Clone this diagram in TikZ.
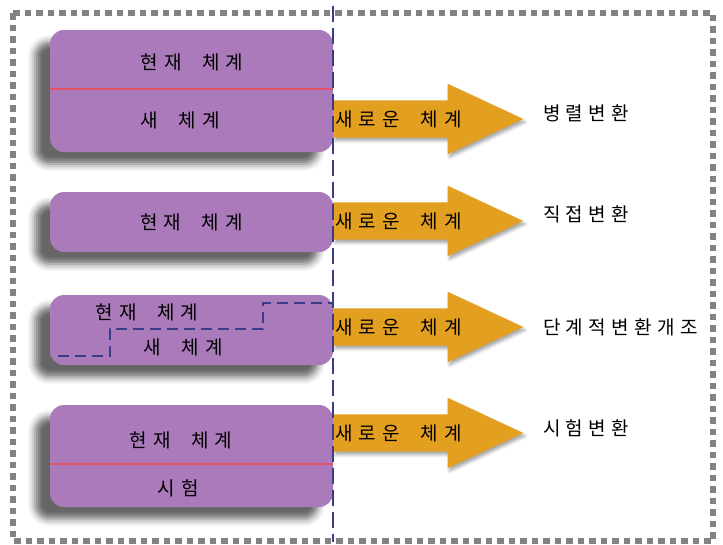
\documentclass[tikz,border=0pt]{standalone}
\usepackage{fontspec}
\newfontfamily\kfont{Noto Sans CJK KR}[LetterSpace=32,WordSpace=2]
\newfontfamily\kwide{Noto Sans CJK KR}[LetterSpace=28]
\usepackage{xcolor}
\usepackage{tikz}
\usetikzlibrary{shapes.arrows,shadows.blur,positioning}

\definecolor{sysc}{RGB}{170,122,186}
\definecolor{cutc}{RGB}{226,82,104}
\definecolor{newc}{RGB}{227,160,32}
\definecolor{linec}{RGB}{58,60,138}
\definecolor{framec}{RGB}{130,130,130}

\begin{document}
\begin{tikzpicture}[x=1pt, y=-1pt,
  sysbox/.style={fill=sysc, rounded corners=14pt, minimum width=283pt, inner sep=0pt,
                 font=\kfont\fontsize{19}{21}\selectfont,
                 blur shadow={shadow xshift=-15pt, shadow yshift=-12pt,
                              shadow blur radius=7pt, shadow opacity=60}},
  newarrow/.style={single arrow, fill=newc, minimum width=70pt, minimum height=190pt,
                   single arrow head extend=16.5pt, single arrow tip angle=50,
                   inner xsep=0pt, inner ysep=18.5pt, anchor=tail,
                   blur shadow={shadow xshift=2pt, shadow yshift=-3pt,
                                shadow blur radius=3pt, shadow opacity=35}},
  systxt/.style={font=\kfont\fontsize{19}{21}\selectfont, inner sep=0pt},
  newtxt/.style={font=\kfont\fontsize{19}{21}\selectfont, anchor=west, inner sep=0pt, xshift=2pt},
  kind/.style={font=\kwide\fontsize{19}{21}\selectfont, anchor=west, inner sep=0pt},
  cut/.style={draw=cutc, line width=2.2pt},
  boundary/.style={draw=linec, line width=2.2pt, dash pattern=on 16pt off 6pt},
  stepline/.style={draw=linec, line width=2.5pt, dash pattern=on 11pt off 6pt},
  frame/.style={draw=framec, line width=6pt, dash pattern=on 6.5pt off 5pt}
]
\useasboundingbox (0,0) rectangle (723,544);
\draw[frame] (13,13) rectangle (713,541);

\node[sysbox, minimum height=122pt] (par) at (191.5,91) {};
\node[systxt] (parold) at (192,62) {현재 체계};
\node[systxt] (parsys) at (180,120) {새 체계};
\draw[cut] ([yshift=2pt]par.west) -- ([yshift=2pt]par.east);

\node[sysbox, minimum height=60pt] (dir) at (191.5,222) {현재 체계};

\node[sysbox, minimum height=70pt] (pha) at (191.5,330) {};
\node[systxt] (phaold) at (147,312) {현재 체계};
\node[systxt] (phasys) at (183,347) {새 체계};
\draw[stepline] (58,356) -| (110,329) -| (263,303) -- (pha.east |- 0,303);

\node[sysbox, minimum height=102pt] (pil) at (191.5,456) {};
\node[systxt] (pilold) at (181,440) {현재 체계};
\node[systxt] (piltest) at (178,488) {시험};
\draw[cut] ([yshift=-8pt]pil.west) -- ([yshift=-8pt]pil.east);

\node[newarrow] (parnew) at (333,119) {};
\node[newtxt] (parnewtxt) at (parnew.tail) {새로운 체계};
\node[newarrow] (dirnew) at (333,221) {};
\node[newtxt] (dirnewtxt) at (dirnew.tail) {새로운 체계};
\node[newarrow] (phanew) at (333,327) {};
\node[newtxt] (phanewtxt) at (phanew.tail) {새로운 체계};
\node[newarrow] (pilnew) at (333,433) {};
\node[newtxt] (pilnewtxt) at (pilnew.tail) {새로운 체계};

\node[kind] (parkind) at (543,113) {병렬변환};
\node[kind] (dirkind) at (543,214) {직접변환};
\node[kind] (phakind) at (543,327) {단계적변환개조};
\node[kind] (pilkind) at (543,428) {시험변환};

\coordinate (bndtop) at (333,6);
\coordinate (bndbot) at (333,542);
\draw[boundary] (bndtop) -- (bndbot);
\end{tikzpicture}
\end{document}
